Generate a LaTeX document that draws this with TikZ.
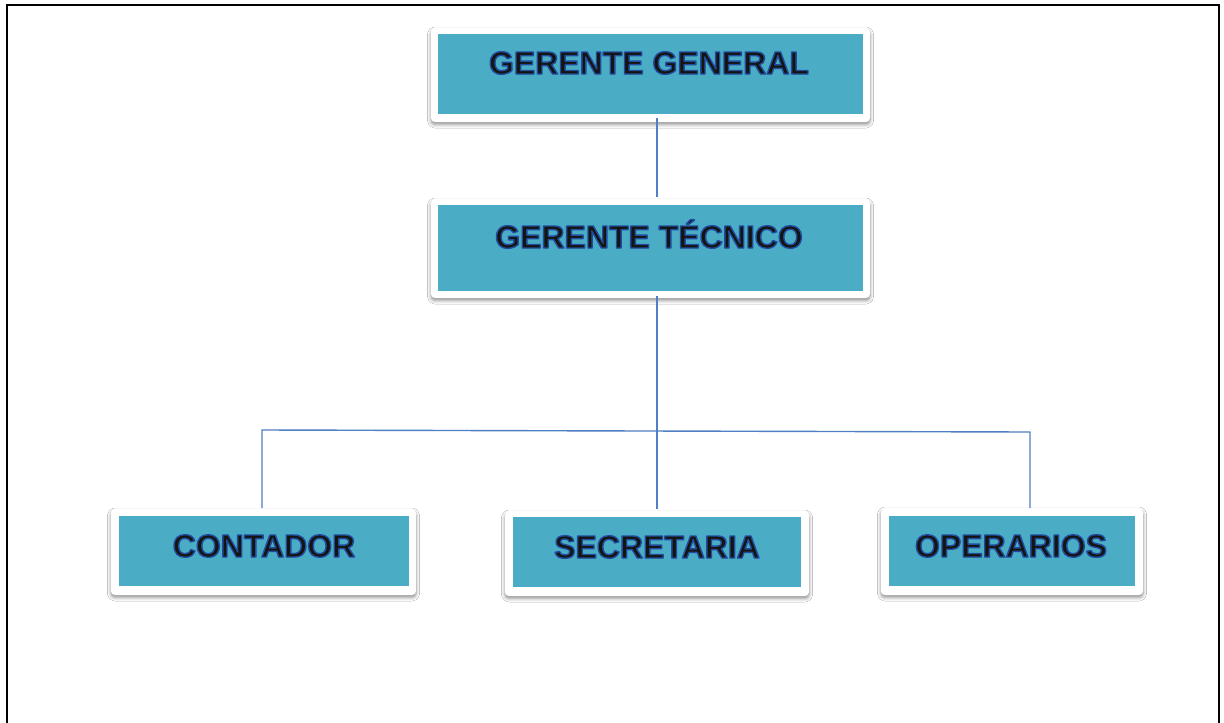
\documentclass[tikz,border=0pt]{standalone}
\usepackage{fontspec}
\setmainfont{Liberation Sans}
\usetikzlibrary{shadows,shadows.blur,calc}
\definecolor{teal}{HTML}{4BACC6}
\definecolor{linec}{HTML}{4F7FC4}
\definecolor{txtc}{HTML}{16140F}
\newcommand\glowon{\special{pdf:literal direct 2 Tr 1.4 w 1 j 0.12 0.30 0.62 RG}}
\newcommand\glowoff{\special{pdf:literal direct 0 Tr}}
\tikzset{
  outerbox/.style={fill=white, rounded corners=4pt, draw=none,
    blur shadow={shadow xshift=0pt, shadow yshift=-2.5pt, shadow blur radius=3.5pt,
      shadow blur steps=6, shadow opacity=45}},
  innerbox/.style={fill=teal, draw=none, inner sep=0pt},
  lbl/.style={font=\bfseries\fontsize{32}{36}\selectfont, text=txtc, inner sep=0pt},
  conn/.style={draw=linec, line width=1.4pt}
}
\begin{document}
\begin{tikzpicture}[x=1pt,y=-1pt]
\useasboundingbox (0,0) rectangle (1224,723);
\fill[white] (0,0) rectangle (1224,723);
% frame
\draw[line width=2.4pt] (7,723) -- (7,5) -- (1219,5) -- (1219,723);

% boxes
\node[outerbox, minimum width=439pt, minimum height=94pt] (gg) at (650.5,75) {};
\node[innerbox, minimum width=425pt, minimum height=80pt] (ggin) at (650.5,74) {};
\node[outerbox, minimum width=439pt, minimum height=99pt] (gt) at (650.5,248.5) {};
\node[innerbox, minimum width=425pt, minimum height=86pt] (gtin) at (650.5,248) {};
\node[outerbox, minimum width=305pt, minimum height=86pt] (co) at (263.5,552) {};
\node[innerbox, minimum width=290pt, minimum height=70pt] (coin) at (264,551) {};
\node[outerbox, minimum width=304pt, minimum height=85pt] (se) at (657,553.5) {};
\node[innerbox, minimum width=288pt, minimum height=70pt] (sein) at (657,552) {};
\node[outerbox, minimum width=262pt, minimum height=87pt] (op) at (1012,551.5) {};
\node[innerbox, minimum width=246pt, minimum height=70pt] (opin) at (1012,551) {};

% labels
\node[lbl] (ggt) at (649,63) {\glowon GERENTE GENERAL\glowoff};
\node[lbl] (gtt) at (649,234) {\glowon GERENTE TÉCNICO\glowoff};
\node[lbl] (cot) at (264,546) {\glowon CONTADOR\glowoff};
\node[lbl] (set) at (657,547) {\glowon SECRETARIA\glowoff};
\node[lbl] (opt) at (1011,546) {\glowon OPERARIOS\glowoff};

% connector coordinates
\coordinate (a1) at (657,118);
\coordinate (a2) at (657,197);
\coordinate (b1) at (657,296);
\coordinate (b2) at (657,509);
\coordinate (hl) at (262,430);
\coordinate (hr) at (1030,432);
\coordinate (cl) at (262,508);
\coordinate (cr) at (1030,508);

\draw[conn] (a1) -- (a2);
\draw[conn] (b1) -- (b2);
\draw[conn] (cl) -- (hl) -- (hr) -- (cr);
\end{tikzpicture}
\end{document}
